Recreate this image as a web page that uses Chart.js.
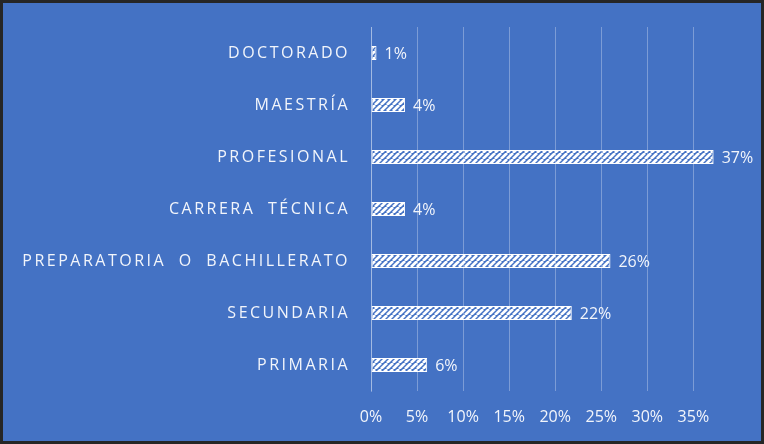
<!DOCTYPE html>
<html>
<head>
<meta charset="utf-8">
<script src="https://cdn.jsdelivr.net/npm/chart.js@4.4.1/dist/chart.umd.min.js"></script>
<style>
  html, body { margin: 0; padding: 0; background: #262626; }
  #wrap { width: 758px; height: 438px; border: 3px solid #262626; background: #4472C4; }
  canvas { display: block; }
</style>
</head>
<body>
<div id="wrap"><canvas id="c" width="758" height="438"></canvas></div>
<script>
const categories = ['DOCTORADO', 'MAESTRÍA', 'PROFESIONAL', 'CARRERA TÉCNICA', 'PREPARATORIA O BACHILLERATO', 'SECUNDARIA', 'PRIMARIA'];
const values = [0.006, 0.037, 0.372, 0.037, 0.26, 0.218, 0.061];
const xTickValues = [0, 0.05, 0.10, 0.15, 0.20, 0.25, 0.30, 0.35];
const xTickLabels = ['0%', '5%', '10%', '15%', '20%', '25%', '30%', '35%'];

const FONT = '"Open Sans", "DejaVu Sans", sans-serif';
const TEXT = '#f2f5fb';
const GRID = 'rgba(255,255,255,0.30)';

function makeHatch() {
  const s = 6;
  const c = document.createElement('canvas');
  c.width = s; c.height = s;
  const g = c.getContext('2d');
  g.strokeStyle = '#ffffff';
  g.lineWidth = 2.7;
  g.beginPath();
  for (let k = -1; k <= 1; k++) {
    g.moveTo(k * s, s);
    g.lineTo(k * s + s, 0);
  }
  g.stroke();
  return document.getElementById('c').getContext('2d').createPattern(c, 'repeat');
}

const spacedLabels = {
  id: 'spacedLabels',
  beforeDraw(chart) {
    const s = chart.scales.y;
    if (s && !s._spaced) {
      const orig = s.drawLabels.bind(s);
      s.drawLabels = function (ca) {
        const ctx = this.ctx;
        const pl = ctx.letterSpacing, pw = ctx.wordSpacing;
        ctx.letterSpacing = '2.5px';
        ctx.wordSpacing = '6px';
        orig(ca);
        ctx.letterSpacing = pl;
        ctx.wordSpacing = pw;
      };
      s._spaced = true;
    }
  }
};

const valueLabels = {
  id: 'valueLabels',
  afterDatasetsDraw(chart) {
    const ctx = chart.ctx;
    const meta = chart.getDatasetMeta(0);
    ctx.save();
    ctx.font = '16px ' + FONT;
    ctx.fillStyle = TEXT;
    ctx.textAlign = 'left';
    ctx.textBaseline = 'middle';
    meta.data.forEach((bar, i) => {
      ctx.fillText(Math.round(values[i] * 100) + '%', bar.x + 8, bar.y + 1);
    });
    ctx.restore();
  }
};

new Chart(document.getElementById('c'), {
  type: 'bar',
  data: {
    labels: categories,
    datasets: [{
      data: values,
      backgroundColor: makeHatch(),
      borderColor: '#ffffff',
      borderWidth: 1,
      borderSkipped: false,
      categoryPercentage: 1,
      barPercentage: 0.27
    }]
  },
  options: {
    indexAxis: 'y',
    responsive: false,
    animation: false,
    layout: { padding: { top: 24, right: 40, bottom: 0, left: 0 } },
    plugins: { legend: { display: false }, tooltip: { enabled: false } },
    scales: {
      x: {
        min: 0,
        max: 0.38,
        afterBuildTicks: sc => { sc.ticks = xTickValues.map(v => ({ value: v })); },
        afterFit: sc => { sc.height = 50; },
        grid: { color: GRID, lineWidth: 1, drawTicks: false },
        border: { display: false },
        ticks: {
          color: TEXT,
          font: { family: FONT, size: 16 },
          padding: 17,
          maxRotation: 0,
          autoSkip: false,
          callback: (v, i) => xTickLabels[i]
        }
      },
      y: {
        afterFit: sc => { sc.width = 368; sc.paddingTop = 0; sc.paddingBottom = 0; },
        grid: { display: false, drawTicks: false },
        border: { display: true, color: GRID, width: 1 },
        ticks: {
          color: TEXT,
          font: { family: FONT, size: 16 },
          padding: 21
        }
      }
    }
  },
  plugins: [spacedLabels, valueLabels]
});
</script>
</body>
</html>
